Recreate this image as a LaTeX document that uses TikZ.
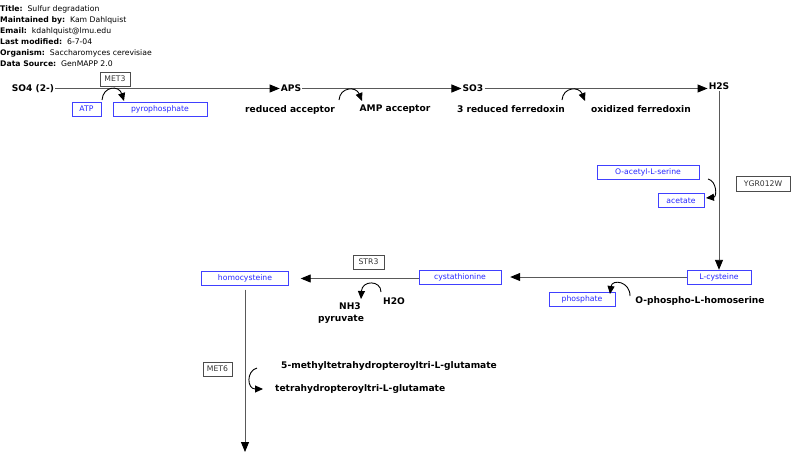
\documentclass[tikz,border=0pt]{standalone}
\usepackage{fontspec}
\setmainfont{DejaVu Sans}
\usetikzlibrary{arrows.meta}

\tikzset{
  met/.style={draw=blue!75!white, text=blue!85!white, font=\fontsize{7.7}{8}\selectfont,
    minimum height=14pt, inner sep=0pt},
  gene/.style={draw=black!70, text=black!80, font=\fontsize{7.7}{8}\selectfont,
    minimum height=14pt, inner sep=0pt},
  lbl/.style={font=\bfseries\fontsize{9.1}{10}\selectfont, inner sep=1pt},
  rxn/.style={draw=black!65, line width=0.9pt, -{Triangle[length=10pt,width=8pt,color=black]}},
  curv/.style={draw=black, line width=0.9pt, -{Triangle[length=8pt,width=7pt]}}
}

\begin{document}
\begin{tikzpicture}[x=1pt,y=-1pt]
  \useasboundingbox (0,0) rectangle (800,464);
  % header
  \node[anchor=north west, align=left, inner sep=0pt,
        font=\fontsize{7.7}{11}\selectfont] (info) at (0,5)
    {\textbf{Title:}~~Sulfur degradation\\
     \textbf{Maintained by:}~~Kam Dahlquist\\
     \textbf{Email:}~~kdahlquist@lmu.edu\\
     \textbf{Last modified:}~~6-7-04\\
     \textbf{Organism:}~~Saccharomyces cerevisiae\\
     \textbf{Data Source:}~~GenMAPP 2.0};

  % top row
  \node[lbl] (so4) at (33,88.5) {SO4 (2-)};
  \node[lbl] (aps) at (291,88.5) {APS};
  \node[lbl] (so3) at (473,88.5) {SO3};
  \node[lbl] (h2s) at (719,86.5) {H2S};
  \draw[rxn] (so4) -- (aps);
  \draw[rxn] (aps) -- (so3);
  \draw[rxn] (so3) -- (so3 -| h2s.west);

  \node[gene, minimum width=30pt] (met3) at (115,79) {MET3};
  \node[met, minimum width=29pt] (atp) at (86.5,109) {ATP};
  \node[met, minimum width=94pt] (ppi) at (160,109) {pyrophosphate};
  \draw[curv] (102,100) .. controls (103,86) and (119,85) .. (124,101);

  \node[lbl] (redacc) at (290,109.5) {reduced acceptor};
  \node[lbl] (ampacc) at (395,109.5) {AMP acceptor};
  \draw[curv] (339,100) .. controls (340,87) and (356,86) .. (362,101);

  \node[lbl] (redfd) at (511,109.5) {3 reduced ferredoxin};
  \node[lbl] (oxfd) at (641,109.5) {oxidized ferredoxin};
  \draw[curv] (562,100) .. controls (563,87) and (579,86) .. (585,101);

  % right column
  \node[met, minimum width=102pt] (oas) at (648,172.5) {O-acetyl-L-serine};
  \node[met, minimum width=46pt] (acet) at (681,200.5) {acetate};
  \node[gene, minimum width=54pt, minimum height=15pt] (ygr) at (763,183.5) {YGR012W};
  \node[met, minimum width=64pt] (lcys) at (719,277) {L-cysteine};
  \draw[rxn] (h2s) -- (lcys);
  \draw[curv] (708,179) .. controls (717,181) and (717,197) .. (706,198);

  % middle row
  \node[met, minimum width=82pt] (cysta) at (460,277.5) {cystathionine};
  \node[met, minimum width=66pt] (phos) at (582,299.5) {phosphate};
  \node[lbl] (ophs) at (700,300.5) {O-phospho-L-homoserine};
  \draw[rxn, shorten >=9pt] (lcys.west) -- (lcys.west -| cysta.east);
  \draw[curv] (630,296) .. controls (630,281) and (612,279) .. (610,294);

  \node[met, minimum width=87pt] (hcys) at (245,278.5) {homocysteine};
  \node[gene, minimum width=31pt] (str3) at (368.5,262) {STR3};
  \draw[rxn, shorten >=12pt] ([yshift=-1pt]cysta.west) -- ([yshift=-1pt]cysta.west -| hcys.east);
  \node[lbl] (nh3) at (350,306.5) {NH3};
  \node[lbl] (pyr) at (341,319.5) {pyruvate};
  \node[lbl] (h2o) at (394,301.5) {H2O};
  \draw[curv] (381,292) .. controls (381,280) and (362,280) .. (361,299);

  % bottom
  \coordinate (bot) at (245,452);
  \draw[rxn] ([yshift=-4pt]hcys.south) -- (bot);
  \node[gene, minimum width=29pt] (met6) at (217.5,369) {MET6};
  \node[lbl, anchor=west] (mthf) at (280,366.5) {5-methyltetrahydropteroyltri-L-glutamate};
  \node[lbl, anchor=west] (thf) at (274,389.5) {tetrahydropteroyltri-L-glutamate};
  \draw[curv] (257,368) .. controls (246,371) and (247,389) .. (263,389);
\end{tikzpicture}
\end{document}
